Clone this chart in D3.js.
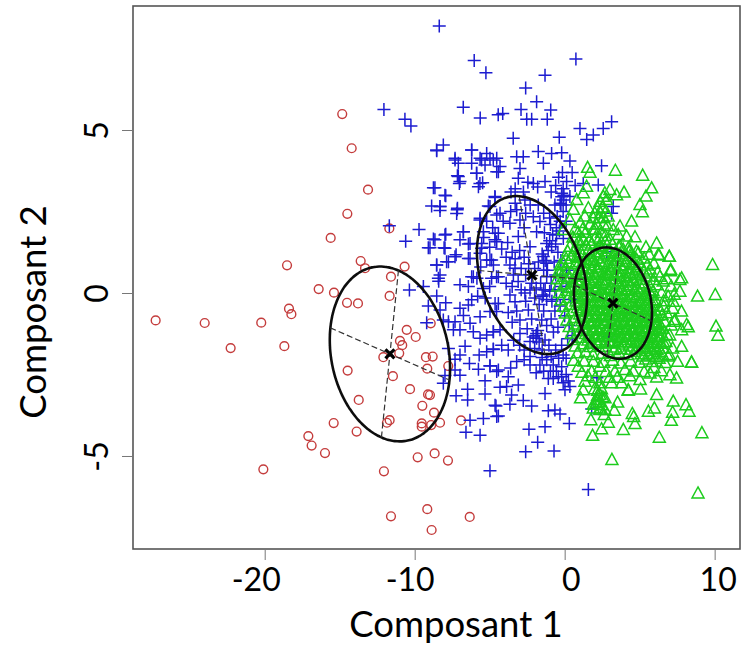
<!DOCTYPE html>
<html>
<head>
<title>Composant 1 / Composant 2</title>
<script src="https://cdn.jsdelivr.net/npm/d3@7/dist/d3.min.js"></script>
<style>
  * { margin: 0; padding: 0; }
  body { background: #fff; }
  text { font-family: Lato, "Noto Sans", sans-serif; fill: #000; }
</style>
</head>
<body>
<div id="chart"></div>
<script>
var xTicks = [-20, -10, 0, 10];
var yTicks = [-5, 0, 5];
var xTitle = "Composant 1";
var yTitle = "Composant 2";

var redPoints = [
  [-14.83,5.49],[-14.2,4.44],[-13.11,3.17],[-14.49,2.43],[-15.6,1.69],[-11.69,1.98],[-18.51,.85],[-13.6,.98],
  [-13.31,.76],[-10.67,.81],[-11.58,.5],[-27.27,-.84],[-24.0,-.92],[-20.23,-.91],[-22.27,-1.69],[-18.38,-.48],
  [-18.22,-.65],[-18.69,-1.63],[-16.4,.12],[-15.38,.01],[-14.51,-.3],[-13.78,-.32],[-11.67,-.09],[-10.53,-1.13],
  [-9.93,-1.35],[-10.98,-1.47],[-10.83,-1.6],[-11.03,-1.85],[-12.09,-1.97],[-9.25,-1.97],[-9.16,-2.32],[-14.47,-2.38],
  [-11.45,-2.55],[-10.31,-2.95],[-13.73,-3.28],[-9.11,-3.11],[-9.49,-3.46],[-11.67,-3.9],[-11.85,-3.98],[-9.53,-4.0],
  [-9.53,-4.1],[-15.4,-3.99],[-13.87,-4.25],[-17.09,-4.39],[-16.87,-4.68],[-15.98,-4.91],[-20.09,-5.41],[-12.05,-5.47],
  [-9.8,-5.04],[-11.58,-6.85],[-9.16,-6.63],[-8.87,-7.27],[-8.8,-1.95],[-8.93,-.93],[-7.76,-2.24],[-8.98,-3.13],
  [-8.71,-3.67],[-8.31,-3.98],[-6.91,-3.91],[-8.67,-4.92],[-7.78,-5.14],[-6.33,-6.87],[-8.9,-4.05]
];

var bluePoints = [
  [-8.36,8.19],[-6.03,7.13],[-5.25,6.76],[-1.31,6.68],[.75,7.18],[-2.6,6.29],[-1.87,5.87],[-6.76,5.7],[-5.63,5.37],
  [-4.43,5.47],[-4.13,5.51],[-2.91,5.63],[-.93,5.61],[-1.16,5.33],[-2.53,5.33],[-2.2,5.33],[1.02,5.05],[2.57,5.05],
  [3.13,5.25],[1.91,4.85],[1.47,4.71],[-3.43,4.75],[-.36,4.78],[-12.05,5.63],[-10.65,5.33],[-10.25,5.12],[-9.71,1.95],
  [-10.6,1.59],[-11.69,2.06],[-9.09,1.39],
  [-8.09,4.54],[-8.53,4.36],[-7.31,4.13],[-7.09,3.98],[-6.2,4.39],[-5.2,4.28],[-6.2,3.98],[-5.64,4.13],[-4.53,4.13],
  [-4.98,4.13],[-5.31,3.93],[-7.15,3.6],[-7.02,3.36],[-5.87,3.67],[-5.47,3.38],[-5.75,3.26],[-4.53,3.72],[-8.75,3.23],
  [-7.93,2.98],[-8.87,2.67],[-8.31,2.65],[-8.31,2.53],[-7.15,2.6],[-7.2,2.44],[-4.64,2.93],[-5.09,2.67],[-4.53,2.39],
  [-5.64,2.29],[-7.93,1.8],[-8.75,1.66],[-8.98,1.39],[-8.04,1.39],[-6.75,1.88],[-6.98,1.63],[-6.42,1.5],[-5.42,1.88],
  [-5.53,1.52],[-4.64,1.83],[-4.53,1.57],[-7.24,1.17],[-8.53,.86],[-7.75,.96],[-6.42,1.06],[-5.2,1.01],[-4.87,1.01],
  [-5.64,1.22],[-4.75,.86],
  [-8.42,.45],[-8.4,.36],[-10.35,.09],[-9.42,.2],[-6.98,.25],[-6.42,.2],[-6.09,.5],[-4.87,.45],[-5.42,.14],[-8.53,-.09],
  [-7.93,-.3],[-9.09,-.4],[-8.31,-.52],[-6.2,-.21],[-6.98,-.47],[-6.42,-.37],[-5.64,-.73],[-6.75,-.69],[-4.64,-.32],
  [-4.98,-.57],[-9.2,-.91],[-8.09,-.83],[-7.75,-.88],[-7.31,-.88],[-7.42,-1.13],[-6.98,-1.13],[-6.31,-.93],[-6.09,-1.19],
  [-5.64,-1.39],[-5.2,-1.29],[-4.75,-1.19],[-7.75,-1.7],[-6.64,-1.63],[-4.75,-1.73],[-7.31,-2.03],[-6.35,-2.16],
  [-6.98,-1.9],[-5.75,-2.34],[-4.98,-2.24],[-4.53,-2.41],[-7.98,-2.53],[-8.09,-2.77],[-6.98,-2.52],[-7.31,-2.36],
  [-5.31,-2.69],[-6.47,-2.95],[-6.47,-3.28],[-7.24,-3.15],[-5.31,-3.1],[-4.64,-3.44],[-4.53,-3.79],[-6.31,-3.9],
  [-5.42,-3.85],[-6.58,-4.27],[-5.64,-4.36],
  [-3.42,.55],[-4.42,.5],[-3.65,-.06],[-2.31,.09],[-1.42,-.06],[-2.65,0],[-3.31,-.27],[-2.98,-.83],[-2.42,-.52],[-1.53,-.83],
  [-4.42,-.32],[-3.76,-.6],[-4.54,-.57],[-1.87,-1.39],[-2.31,-1.49],[-1.31,-1.44],[-1.87,-1.24],[-2.98,-1.24],[-4.76,-1.19],
  [-4.31,-1.13],[-4.76,-1.72],[-3.76,-1.75],[-2.31,-1.95],[-2.31,-2.21],[-1.65,-2.21],[-1.2,-2.05],[-.76,-2.21],[-.2,-2.26],
  [-.42,-2.57],[-.2,-2.57],[-.76,-2.62],[-1.09,-2.62],[.35,-2.87],[.02,-2.97],[-1.31,-3.08],[-4.98,-2.23],[-4.42,-2.36],
  [-3.76,-2.57],[-3.87,-2.87],[-3.09,-2.82],[-4.31,-2.89],[-3.54,-3.13],[-3.65,-3.41],[-2.76,-3.3],[-2.2,-3.47],[-4.58,-3.47],
  [-4.42,-3.77],[-1.09,-3.61],[-.65,-3.59],[-.31,-3.71],[.31,-4.0],[-1.31,-4.1],[-2.38,-4.18],[-1.8,-4.58],[-.71,-4.85],
  [-2.6,-4.87],[-4.98,-5.45],[1.58,-6.03],
  [-8.54,4.39],[-7.31,4.08],[-6.2,4.39],[-5.54,4.08],[-4.76,4.08],[-4.31,3.88],[-4.42,3.72],[-3.2,4.18],[-2.76,4.18],
  [-1.76,4.34],[-.87,4.28],[-.2,4.3],[-1.42,3.98],[.35,4.05],[2.46,3.9],[-5.87,3.67],[-7.09,3.57],[-6.98,3.42],[-5.65,3.36],
  [-2.98,3.82],[-3.09,3.52],[-2.09,3.36],[-1.31,3.42],[.13,3.42],[1.24,3.36],[2.24,3.31],[-8.65,3.23],[-7.98,3.0],[-8.31,2.65],
  [-7.16,2.55],[-3.58,3.1],[-4.65,2.96],[-.2,3.06],[-.09,2.85],[-.65,2.7],[3.24,2.65],[3.13,2.45],[.35,2.96],[-5.65,2.24],
  [-4.98,2.65],[-4.31,2.45],[-2.65,2.85],[-1.76,2.7],[-3.2,2.55],[-2.09,2.34],[-3.65,2.14],[-2.98,2.24],[-1.65,2.19],
  [-4.42,1.83],[-6.76,1.88],[-7.98,1.78],[-8.65,1.63],[-7.98,1.37],[-6.31,1.52],[-5.54,1.37],[-4.65,1.63],[-3.09,1.73],
  [-1.87,1.88],[-2.31,1.42],[-1.2,1.52],[-.54,1.78],[-.09,1.67],[-.87,1.42],[-1.42,1.12],[-1.2,.91],[-4.98,1.01],[-6.31,1.06],
  [-7.31,1.11],[-7.87,.96],[-8.54,.86],[-3.65,.86],[-3.31,.76],[-4.54,.5],[-6.2,.5],[-8.31,.55],[2.8,1.27],[.13,.7],
  [-.2,2.95],[-.3,2.75],[-.1,3.2],[-1.3,1.0],[-1.1,1.3],[-1.0,1.6],[-.8,1.8],[-.6,1.5],[-1.5,1.2],[-1.4,.7],[-1.2,.5],[-1.6,.3],
  [-1.4,.1],[-1.9,-1.3],[-1.7,-1.5],[-2.1,-1.35],[-1.8,-1.15],[-1.5,-.1],[-1.3,.1],[-1.2,-.2],[-.1,-1.9],[.1,-2.0],[-.2,-1.6],
  [.2,-1.4],[.5,-1.3],[.3,-1.0],[0,-.7],[-.3,-.4],[.1,.2],[.4,-.2],[2.15,-2.6],[1.8,-3.56],[2.9,-1.34],[-2.7,1.1],[-2.4,.9],
  [-3.0,1.3],[-3.5,1.25],[-2.0,.75],[-1.75,.95],[-.9,.3],[-.7,.95],[-.6,.55],[-2.7,2.0],[-3.8,1.55],[-3.3,2.75],
  // second pass over the crowded part of the cloud
  [-5.2,2.2],[-4.8,2.0],[-4.1,2.2],[-3.6,2.5],[-2.6,2.45],[-2.3,2.7],[-1.4,2.45],[-1.0,2.3],[-.5,2.35],[-.3,2.2],[-.1,2.5],[.1,2.2],
  [-5.4,1.7],[-5.0,1.4],[-4.2,1.35],[-3.9,1.1],[-3.3,1.05],[-2.9,.75],[-2.6,.55],[-3.9,.3],[-3.5,.2],[-3.1,.35],[-2.9,.1],[-2.2,.3],
  [-1.9,.15],[-2.0,-.15],[-1.7,-.35],[-1.4,-.55],[-1.15,.7],[-1,.05],[-.85,-.25],[-.65,-.55],[-.9,-.8],[-1.2,-1.0],[-.75,-1.2],
  [-.45,-1.05],[-3.5,-.9],[-3.2,-.55],[-2.6,-.25],[-2.2,-.8],[-2.5,-1.1],[-3.4,-1.45],[-3.0,-1.6],[-2.7,-1.75],[-2.0,-1.7],[-1.5,-1.75],
  [-1.05,-1.6],[-.6,-1.75],[-.9,-1.95],[-.4,-2.0],[-1.5,-1.98],[-2.7,-2.05],[-3.2,-2.1],[-3.6,-2.3],[-1.9,-2.45],[-1.4,-2.4],[-.55,-2.4],
  [-.95,-2.4],[.1,-2.5],[.25,-2.7],[-.1,-2.75],[-5.0,.2],[-5.3,-.15],[-5.8,-.1],[-5.85,.45],[-5.6,.8],[-4.2,-1.6],[-5.7,-1.9],[-5.2,-1.8],
  [-3.3,3.2],[-2.75,3.1],[-2.45,3.4],[-1.8,3.25],[-.9,3.1],[-.6,3.3],[-.4,3.55],[-.15,3.7],[.5,3.7],[.7,3.3],[-.95,2.1],[-1.35,1.85],
  [-.45,1.25],[-.25,1.0],[-.15,.55],[-.65,.1],[-.55,-.2],[-.2,.2],[-.35,1.9],[-.55,2.0],[-.25,2.7],[-.05,3.0],[.1,2.7]
];

var greenPoints = [
  // outliers and the rim of the cloud
  [8.86,-.11],[10.04,-.06],[10.09,-1.03],[10.22,-1.31],[8.46,-2.14],[7.53,-2.11],[7.46,-2.62],[6.13,-3.13],[5.06,-2.96],
  [4.24,-3.0],[7.24,-3.33],[8.09,-3.44],[8.29,-3.64],[7.2,-3.67],[7.11,-3.92],[5.58,-3.64],[5.98,-3.54],[4.51,-3.71],
  [4.6,-3.8],[4.69,-4.02],[3.53,-3.36],[3.31,-3.61],[2.91,-3.98],[3.91,-4.2],[2.46,-4.18],[1.86,-4.38],[1.75,-3.9],
  [2.64,-3.74],[6.31,-4.44],[9.15,-4.3],[3.15,-5.12],[8.89,-6.15],[1.06,-3.23],[2.13,-3.38],[2.35,-3.54],[1.91,-3.43],
  [1.53,3.84],[1.69,3.69],[3.38,3.75],[5.2,3.6],[5.8,3.21],[5.42,2.96],[5.02,2.7],[5.18,2.48],[3.96,3.08],[3.46,3.0],
  [3.02,3.16],[1.46,3.26],[1.24,3.06],[.8,2.85],[2.58,2.95],[2.8,2.85],[2.36,2.8],[1.58,2.6],[.58,2.55],[1.91,2.29],
  [4.46,2.19],[3.69,2.04],[4.13,1.73],[4.69,1.71],[3.24,1.93],[6.13,1.52],[5.42,1.4],[6.24,1.17],[6.98,1.11],[9.86,.86],
  [7.07,.71],[7.8,.45],[.35,2.24],[-.09,1.93],[1.24,1.63],[.35,1.42],[1.91,1.93],[3.02,1.63],[2.36,1.42],[3.69,1.42],
  [4.35,1.32],[4.91,1.22],[.8,1.1],[-.09,.91],[1.69,1.01],[-.31,.6],[2.68,3.06],[3.57,1.78],[5.64,1.17],[6.3,1.15],
  [6.97,1.11],[7.06,.67],[7.68,.4],[6.35,.5],[6.57,.35],[7.68,.04],[6.9,-.11],[6.46,0],[7.24,-.27],[7.79,-.57],[7.35,-.83],
  [6.35,-.52],[6.79,-.62],[6,-.73],[6.13,-.98],[8.13,-.98],[4.79,1.27],[4.24,1.37],
  [7.31,-.88],[8.24,-1.05],[7.8,-1.14],[6.8,-1.29],[7.8,-1.65],[8.46,-2.13],[6.98,-1.9],[7.02,-2.52],[6.13,-2.59],[4.24,-2.98],
  [1.24,-2.98],[1.35,-2.72],[1.8,-2.41],[.91,-2.26],[2.35,-2.26],[3.35,-2.41],[4.58,-2.41],[4.02,-2.36],[5.69,-2.47],
  [3.8,-2.77],[3.13,-2.77],[2.35,-2.77],[5.02,-2.67],[1.91,-2.11],[2.35,-3.13],[2.69,-3.23],[2.13,-3.28],[2.46,-3.44],
  [1.91,-3.54],[2.35,-3.59],[2.69,-3.59],[2.2,-3.0],[2.55,-3.2],[2.3,-3.35],
  // top knot
  [2.5,2.62],[2.75,2.5],[2.4,2.45],[2.2,2.6],[2.6,2.3],[1.35,2.35],[1.05,2.15],[.7,1.95],[1.4,1.85],[2.15,2.1],[2.85,2.05],
  [2.45,1.85],[.55,1.7],[.95,1.6],[1.65,1.6],[2.05,1.7],[2.7,1.75],
  // dense body, top to bottom
  [.9,1.55],[1.4,1.46],[1.8,1.52],[2.3,1.44],[2.7,1.57],[3.2,1.48],[3.6,1.41],
  [.2,1.27],[.7,1.35],[1.1,1.25],[1.6,1.32],[2.0,1.24],[2.5,1.36],[2.9,1.28],[3.4,1.22],[3.9,1.33],[4.3,1.26],
  [.1,1.05],[.5,1.14],[.9,1.08],[1.35,1.02],[1.8,1.12],[2.2,1.06],[2.6,1.15],[3.05,1.03],[3.5,1.1],[3.9,1.04],[4.35,1.13],[4.8,1.02],[5.3,1.06],
  [-.3,.85],[.25,.94],[.7,.88],[1.15,.82],[1.55,.93],[2.0,.86],[2.4,.96],[2.85,.84],[3.3,.91],[3.7,.83],[4.1,.95],[4.55,.87],[5.0,.92],[5.5,.84],[5.95,.9],
  [-.4,.65],[.05,.72],[.45,.63],[.95,.7],[1.4,.62],[1.8,.73],[2.2,.66],[2.65,.6],[3.05,.71],[3.5,.64],[3.9,.74],[4.35,.62],[4.8,.7],[5.25,.66],[5.7,.72],[6.2,.63],
  [-.5,.42],[-.05,.5],[.3,.44],[.8,.38],[1.2,.5],[1.6,.41],[2.05,.47],[2.45,.4],[2.9,.52],[3.3,.43],[3.7,.49],[4.15,.38],[4.55,.46],[5.0,.41],[5.45,.51],[5.9,.4],[6.8,.42],
  [-.45,.2],[0,.27],[.5,.18],[.95,.24],[1.4,.16],[1.8,.28],[2.25,.2],[2.7,.25],[3.1,.15],[3.55,.27],[3.95,.19],[4.4,.24],[4.8,.17],[5.25,.26],[5.7,.18],[6.15,.24],[7.1,.2],
  [-.35,.0],[.2,.06],[.65,-.03],[1.1,.04],[1.55,-.05],[2.0,.07],[2.4,0],[2.85,-.04],[3.25,.05],[3.7,-.02],[4.1,.06],[4.55,-.05],[5.0,.03],[5.45,-.03],[5.9,.05],[7.3,-.05],
  [-.25,-.22],[.25,-.15],[.75,-.26],[1.2,-.18],[1.65,-.24],[2.1,-.14],[2.5,-.25],[2.95,-.17],[3.4,-.23],[3.8,-.13],[4.25,-.26],[4.7,-.16],[5.15,-.24],[5.6,-.15],[6.05,-.22],[6.6,-.25],
  [-.1,-.42],[.4,-.36],[.85,-.46],[1.3,-.38],[1.75,-.44],[2.2,-.35],[2.6,-.47],[3.05,-.37],[3.5,-.43],[3.95,-.34],[4.35,-.46],[4.8,-.36],[5.25,-.44],[5.7,-.38],[6.6,-.42],[7.2,-.48],
  [.05,-.63],[.55,-.56],[1.0,-.66],[1.4,-.57],[1.85,-.65],[2.3,-.55],[2.75,-.67],[3.15,-.58],[3.6,-.64],[4.05,-.54],[4.5,-.66],[4.9,-.57],[5.35,-.65],[5.8,-.56],[6.5,-.68],
  [.15,-.84],[.7,-.77],[1.15,-.87],[1.55,-.76],[2.0,-.85],[2.45,-.75],[2.85,-.86],[3.3,-.78],[3.75,-.84],[4.15,-.74],[4.6,-.86],[5.05,-.77],[5.5,-.85],[5.95,-.76],[6.65,-.88],[7.1,-1.0],
  [.3,-1.04],[.85,-.97],[1.25,-1.06],[1.7,-.96],[2.15,-1.05],[2.6,-.95],[3.0,-1.07],[3.45,-.98],[3.85,-1.04],[4.3,-.94],[4.75,-1.06],[5.15,-.97],[5.6,-1.05],[6.05,-.95],[6.5,-1.1],
  [.45,-1.24],[1.0,-1.17],[1.4,-1.26],[1.85,-1.16],[2.3,-1.25],[2.7,-1.15],[3.15,-1.27],[3.6,-1.18],[4.0,-1.24],[4.45,-1.14],[4.85,-1.26],[5.3,-1.17],[5.75,-1.25],[6.2,-1.16],[7.0,-1.3],
  [.6,-1.44],[1.1,-1.37],[1.55,-1.46],[2.0,-1.36],[2.4,-1.45],[2.85,-1.35],[3.3,-1.47],[3.7,-1.38],[4.15,-1.44],[4.6,-1.34],[5.0,-1.46],[5.45,-1.37],[5.9,-1.45],[6.3,-1.36],[6.75,-1.5],
  [.7,-1.64],[1.25,-1.57],[1.7,-1.66],[2.15,-1.56],[2.55,-1.65],[3.0,-1.55],[3.4,-1.67],[3.85,-1.58],[4.3,-1.64],[4.7,-1.54],[5.15,-1.66],[5.6,-1.57],[6.0,-1.65],[6.45,-1.56],[7.2,-1.7],
  [.85,-1.85],[1.4,-1.82],[1.9,-1.9],[2.5,-1.86],[3.05,-1.93],[3.6,-1.84],[4.2,-1.9],[4.65,-1.8],[5.1,-1.88],[5.5,-1.78],[5.95,-1.86],[6.4,-1.8],[6.9,-1.95],
  [.6,-2.08],[1.3,-2.1],[2.6,-2.14],[3.2,-2.08],[3.75,-2.16],[4.4,-2.1],[5.0,-2.14],[5.4,-2.04],[5.85,-2.12],[6.3,-2.02],[6.7,-2.15],
  [1.55,-2.55],[2.05,-2.6],[2.75,-2.42],[3.5,-2.6],[4.35,-2.55],[5.3,-2.42],[5.95,-2.3],[6.45,-2.4],[1.15,-2.45],[3.0,-2.6],
  // second pass over the solid middle
  [1.2,1.15],[1.7,1.2],[2.25,1.25],[2.75,1.2],[3.2,1.12],[3.7,1.2],[1.0,.95],[1.45,.75],[1.9,.98],[2.25,.78],[2.65,.9],[3.1,.8],
  [3.5,.98],[3.95,.85],[4.3,.75],[4.8,.8],[.75,.55],[1.2,.58],[1.65,.55],[2.0,.6],[2.45,.55],[2.85,.62],[3.3,.55],[3.7,.6],[4.15,.52],
  [4.6,.6],[5.0,.55],[5.55,.6],[.6,.32],[1.05,.38],[1.5,.3],[1.95,.35],[2.4,.3],[2.8,.38],[3.25,.32],[3.75,.36],[4.2,.32],[4.6,.36],
  [5.1,.3],[.3,.15],[.8,.1],[1.2,.12],[1.65,.1],[2.1,.14],[2.5,.1],[2.95,.12],[3.35,.1],[3.8,.12],[4.25,.1],[4.7,.08],[5.15,.12],[5.6,.08],
  [.9,-.1],[1.35,-.12],[1.8,-.08],[2.3,-.1],[2.7,-.08],[3.1,-.1],[3.55,-.08],[3.95,-.06],[4.4,-.12],[4.85,-.08],[5.3,-.1],[5.8,-.08],
  [1.0,-.3],[1.45,-.32],[1.95,-.3],[2.35,-.28],[2.8,-.32],[3.25,-.3],[3.65,-.28],[4.1,-.32],[4.55,-.28],[5.0,-.3],[5.5,-.32],[5.95,-.3],
  [1.1,-.52],[1.6,-.5],[2.05,-.54],[2.5,-.52],[2.9,-.5],[3.35,-.54],[3.8,-.5],[4.2,-.54],[4.65,-.5],[5.1,-.52],[5.55,-.5],[6.05,-.54],
  [1.25,-.72],[1.7,-.74],[2.15,-.7],[2.6,-.74],[3.0,-.72],[3.45,-.7],[3.9,-.74],[4.3,-.7],[4.75,-.72],[5.2,-.7],[5.65,-.74],[6.2,-.7],
  [1.35,-.92],[1.85,-.9],[2.3,-.94],[2.7,-.92],[3.15,-.9],[3.6,-.94],[4.0,-.9],[4.45,-.94],[4.9,-.9],[5.35,-.92],[5.8,-.9],[6.3,-.92],
  [1.5,-1.12],[1.95,-1.14],[2.45,-1.1],[2.85,-1.14],[3.3,-1.1],[3.75,-1.14],[4.15,-1.1],[4.6,-1.14],[5.0,-1.1],[5.45,-1.12],[5.9,-1.14],[6.35,-1.1],
  [1.65,-1.32],[2.15,-1.3],[2.55,-1.34],[3.0,-1.32],[3.45,-1.3],[3.85,-1.34],[4.3,-1.3],[4.75,-1.34],[5.15,-1.3],[5.6,-1.32],[6.05,-1.34],[6.5,-1.3],
  [1.8,-1.52],[2.25,-1.54],[2.7,-1.5],[3.15,-1.54],[3.55,-1.5],[4.0,-1.52],[4.45,-1.5],[4.85,-1.52],[5.3,-1.5],[5.75,-1.54],[6.2,-1.5],[6.6,-1.52],
  [3.3,-1.75],[3.75,-1.72],[4.4,-1.74],[4.85,-1.7],[5.3,-1.72],[5.7,-1.7],[6.15,-1.74],[6.55,-1.7],[5.2,-1.95],[5.65,-1.92],[6.1,-1.96],[6.55,-1.92],
  [2.0,2.45],[2.3,2.3],[2.9,2.35],[1.7,2.1],[1.2,1.95],[.9,1.85],[2.3,1.65],[2.05,1.95],[2.6,2.1],[2.0,-2.95],[2.45,-2.95],[2.2,-3.15]
];

var centers = [[-11.65,-1.87],[-2.18,.55],[3.22,-.31]];
var majorAxes = [[.567,2.56],[-.85,2.42],[.413,1.617]];
var minorAxes = [[3.97,-.8],[3.57,-.14],[2.567,-.552]];

var width = 741, height = 649;
var left = 133, right = 740, top_ = 6, bottom = 549;

var x = d3.scaleLinear().domain([-28.78, 11.69]).range([left, right]);
var y = d3.scaleLinear().domain([-7.853, 8.804]).range([bottom, top_]);

var svg = d3.select("#chart").append("svg")
    .attr("width", width)
    .attr("height", height)
    .style("display", "block");

svg.append("defs").append("filter")
    .attr("id", "soft")
    .attr("x", 0).attr("y", 0).attr("width", 1).attr("height", 1)
    .attr("filterUnits", "userSpaceOnUse")
    .attr("x", 0).attr("y", 0).attr("width", width).attr("height", height)
  .append("feGaussianBlur")
    .attr("stdDeviation", 0.4);

var marks = svg.append("g").attr("filter", "url(#soft)");

// red circles
marks.append("g").selectAll("circle").data(redPoints)
  .enter().append("circle")
    .attr("cx", function(d) { return x(d[0]); })
    .attr("cy", function(d) { return y(d[1]); })
    .attr("r", 4.4)
    .attr("fill", "none")
    .attr("stroke", "#c43c3c")
    .attr("stroke-width", 1.4);

// blue plus signs
marks.append("g").selectAll("path").data(bluePoints)
  .enter().append("path")
    .attr("d", function(d) {
      var px = x(d[0]), py = y(d[1]), s = 6.5;
      return "M" + (px - s) + " " + py + "L" + (px + s) + " " + py +
             "M" + px + " " + (py - s) + "L" + px + " " + (py + s);
    })
    .attr("fill", "none")
    .attr("stroke", "#1c1cd0")
    .attr("stroke-width", 1.5);

// green triangles
marks.append("g").selectAll("path").data(greenPoints)
  .enter().append("path")
    .attr("d", function(d) {
      var px = x(d[0]), py = y(d[1]);
      return "M" + px + " " + (py - 6.5) + "L" + (px + 6) + " " + (py + 4.5) +
             "L" + (px - 6) + " " + (py + 4.5) + "Z";
    })
    .attr("fill", "none")
    .attr("stroke", "#1ccc1c")
    .attr("stroke-width", 1.5);

// ellipses with their dashed axes and centres
var angles = d3.range(0, 6.28, 0.04);
var ellipseLine = d3.line()
    .x(function(d) { return x(d[0]); })
    .y(function(d) { return y(d[1]); })
    .curve(d3.curveCardinalClosed);

centers.forEach(function(c, i) {
  var a = majorAxes[i], b = minorAxes[i];
  var pts = angles.map(function(t) {
    return [c[0] + a[0] * Math.cos(t) + b[0] * Math.sin(t),
            c[1] + a[1] * Math.cos(t) + b[1] * Math.sin(t)];
  });
  marks.append("path")
    .attr("d", ellipseLine(pts))
    .attr("fill", "none")
    .attr("stroke", "#111")
    .attr("stroke-width", 2.6);
  [a, b].forEach(function(v) {
    marks.append("line")
      .attr("x1", x(c[0] - v[0])).attr("y1", y(c[1] - v[1]))
      .attr("x2", x(c[0] + v[0])).attr("y2", y(c[1] + v[1]))
      .attr("stroke", "#333")
      .attr("stroke-width", 1.2)
      .attr("stroke-dasharray", "6,3");
  });
  var cx = x(c[0]), cy = y(c[1]), s = 4.5;
  marks.append("path")
    .attr("d", "M" + (cx - s) + " " + (cy - s) + "L" + (cx + s) + " " + (cy + s) +
               "M" + (cx + s) + " " + (cy - s) + "L" + (cx - s) + " " + (cy + s))
    .attr("stroke", "#000")
    .attr("stroke-width", 3.2);
});

// box
svg.append("rect")
    .attr("x", left).attr("y", top_)
    .attr("width", right - left).attr("height", bottom - top_)
    .attr("fill", "none")
    .attr("stroke", "#555")
    .attr("stroke-width", 1.6);

// axes
var xAxis = svg.append("g")
    .attr("transform", "translate(0," + bottom + ")")
    .call(d3.axisBottom(x).tickValues(xTicks).tickSize(11).tickFormat(d3.format("d")));
var yAxis = svg.append("g")
    .attr("transform", "translate(" + left + ",0)")
    .call(d3.axisLeft(y).tickValues(yTicks).tickSize(11).tickFormat(d3.format("d")));

xAxis.select(".domain").remove();
yAxis.select(".domain").remove();
xAxis.selectAll("line").attr("stroke", "#777");
yAxis.selectAll("line").attr("stroke", "#777");

xAxis.selectAll("text")
    .style("font-size", "32px")
    .attr("y", 17)
    .attr("dy", "0.78em")
    .attr("dx", function(d) { return d === 0 ? 6 : d === 10 ? 3 : d === -10 ? -5 : -9; })
    .text(function(d) { return d < 0 ? "-" + Math.abs(d) : d; });

yAxis.selectAll("text")
    .style("font-size", "32px")
    .attr("text-anchor", "middle")
    .attr("x", 0).attr("dy", 0)
    .attr("transform", "translate(-25,0) rotate(-90)")
    .text(function(d) { return d < 0 ? "-" + Math.abs(d) : d; });

svg.append("text")
    .attr("x", 456).attr("y", 637)
    .attr("text-anchor", "middle")
    .style("font-size", "36.5px")
    .text(xTitle);

svg.append("text")
    .attr("transform", "translate(46,312) rotate(-90)")
    .attr("text-anchor", "middle")
    .style("font-size", "36.5px")
    .text(yTitle);
</script>
</body>
</html>
